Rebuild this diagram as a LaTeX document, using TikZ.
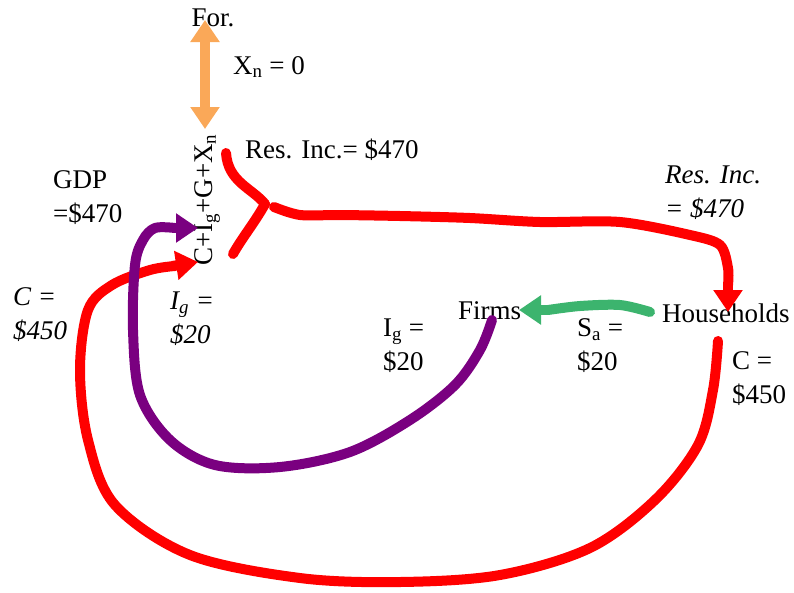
\documentclass[tikz,border=0pt]{standalone}
\usepackage{fontspec}
\setmainfont{Liberation Serif}
\usetikzlibrary{arrows.meta}
\definecolor{redline}{RGB}{255,0,0}
\definecolor{purpleline}{RGB}{122,0,128}
\definecolor{greenline}{RGB}{60,180,110}
\definecolor{orangeline}{RGB}{250,168,88}
\begin{document}
\begin{tikzpicture}[x=1pt,y=-1pt,
  lbl/.style={inner sep=0pt,font=\fontsize{27}{34}\selectfont,align=left,anchor=west},
  flow/.style={line width=10pt,line cap=round,line join=round},
  tip/.style={-{Triangle[length=22pt,width=28pt]}}]
\useasboundingbox (0,0) rectangle (794,592);
% labels
\node[lbl,anchor=center] (for) at (213,18) {For.};
\node[lbl] (xn) at (233,67) {X\textsubscript{n} = 0};
\node[lbl,anchor=center,rotate=90] (sum) at (207,200) {C+I\textsubscript{g}+G+X\textsubscript{n}};
\node[lbl] (resinc) at (245,150) {Res. Inc.= \$470};
\node[lbl] (gdp) at (53,198) {GDP\\=\$470};
\node[lbl] (cl) at (13,315) {\textit{C =}\\\textit{\$450}};
\node[lbl] (igl) at (170,319) {\textit{I\textsubscript{g} =}\\\textit{\$20}};
\node[lbl] (resinc2) at (665,193) {\textit{Res. Inc.}\\\textit{= \$470}};
\node[lbl] (firms) at (458,311) {Firms};
\node[lbl] (hh) at (662,313) {Households};
\node[lbl] (igr) at (383,346) {I\textsubscript{g} =\\\$20};
\node[lbl] (sa) at (577,346) {S\textsubscript{a} =\\\$20};
\node[lbl] (cr) at (732,379) {C =\\\$450};
% orange double arrow
\coordinate (oTop) at (205,20);
\coordinate (oBot) at (205,129);
\draw[orangeline,line width=10pt,{Triangle[length=22pt,width=28pt]}-{Triangle[length=22pt,width=28pt]}] (oTop) -- (oBot);
% red Y junction and flow to households
\coordinate (yA) at (226,153);
\coordinate (yJ) at (265,204);
\coordinate (yB) at (233,254);
\coordinate (hhTop) at (728,312);
\draw[redline,flow] (yA) .. controls (228,182) and (252,188) .. (yJ);
\draw[redline,flow] (yJ) .. controls (255,222) and (242,238) .. (yB);
\draw[redline,flow] plot[smooth,tension=0.5] coordinates {(274,207) (300,215) (340,215) (400,216) (470,218) (540,222) (620,222) (690,235) (720,245) (728,268) (728,285)};
\draw[redline,line width=10pt,tip] (728,283) -- (hhTop);
% red big loop
\coordinate (cStart) at (718,341);
\coordinate (cEnd) at (198,262);
\draw[redline,flow] plot[smooth,tension=0.55] coordinates {(cStart) (713,390) (698,445) (655,500) (590,548) (500,575) (400,582) (300,578) (190,555) (115,505) (88,440) (80,370) (88,310) (112,285) (150,270) (175,266)};
\draw[redline,line width=10pt,tip] (172,266) -- (cEnd);
% purple
\coordinate (pStart) at (492,320);
\coordinate (pEnd) at (198,228);
\draw[purpleline,flow] plot[smooth,tension=0.55] coordinates {(pStart) (480,350) (455,385) (410,420) (350,452) (280,467) (215,465) (170,440) (140,395) (133,330) (135,265) (143,240) (155,228) (175,228)};
\draw[purpleline,line width=10pt,tip] (172,228) -- (pEnd);
% green
\coordinate (gStart) at (650,312);
\coordinate (gEnd) at (519,310);
\draw[greenline,flow] plot[smooth,tension=0.5] coordinates {(gStart) (620,305) (580,306) (548,310)};
\draw[greenline,line width=10pt,tip] (548,310) -- (gEnd);
\end{tikzpicture}
\end{document}
